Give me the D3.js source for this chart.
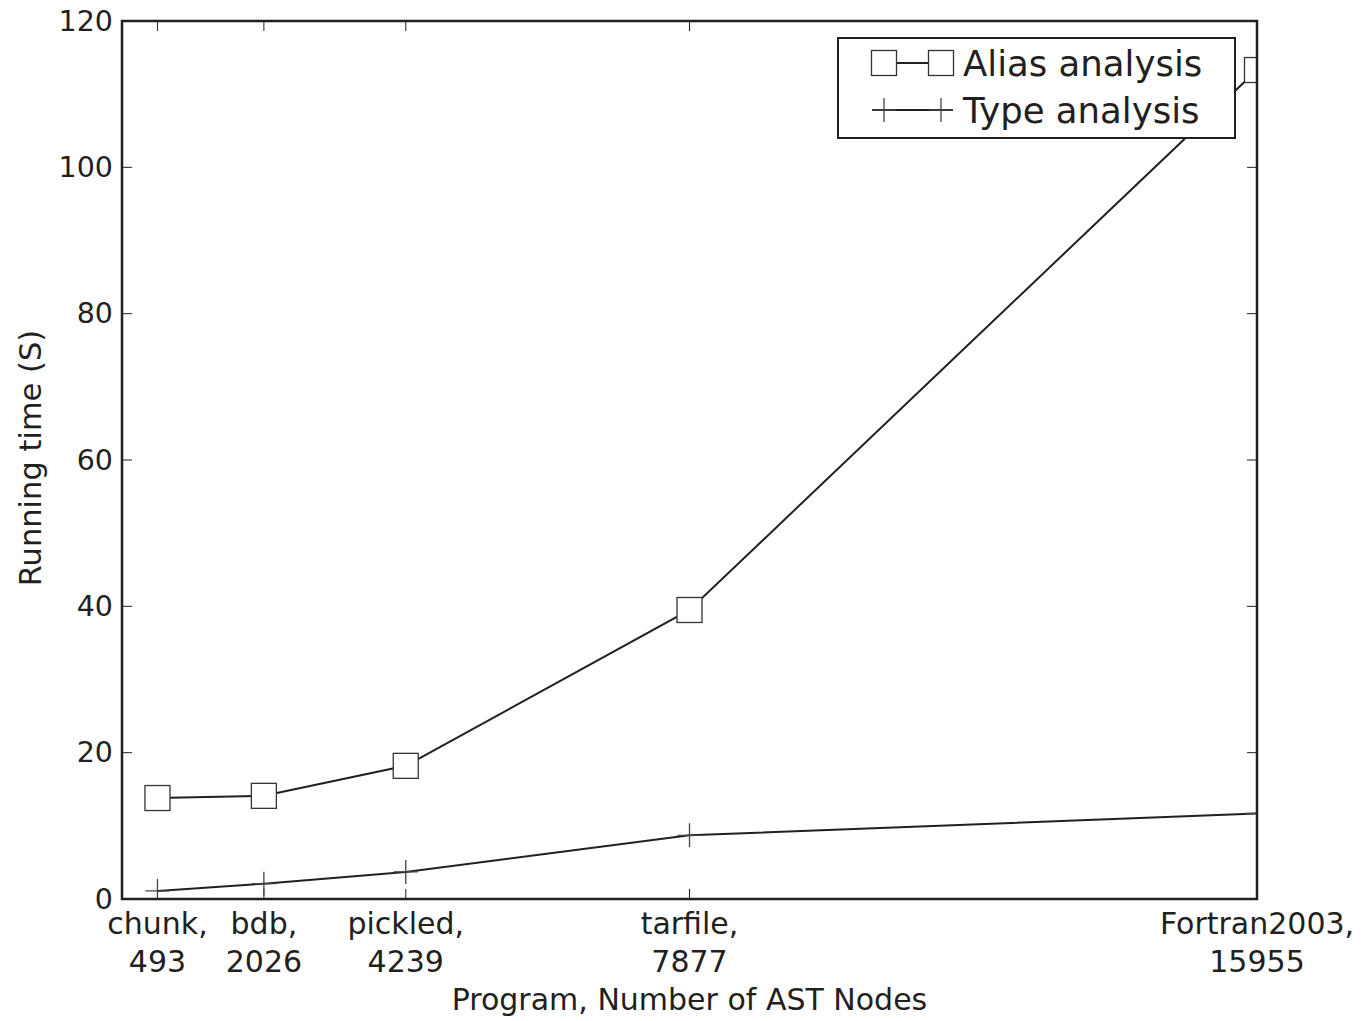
<!DOCTYPE html>
<html>
<head>
<meta charset="utf-8">
<script src="https://cdn.jsdelivr.net/npm/d3@7"></script>
<style>
  body { margin: 0; background: #fff; }
  text { font-family: "DejaVu Sans", sans-serif; fill: #231f20; }
</style>
</head>
<body>
<script>
const width = 1365,
      height = 1021;

// programs, placed by node count in thousands (rounded)
const programs = ["chunk,", "bdb,", "pickled,", "tarfile,", "Fortran2003,"];
const nodeLabels = ["493", "2026", "4239", "7877", "15955"];
const nodePos = [0.5, 2, 4, 8, 16];

const aliasTimes = [13.8, 14.1, 18.2, 39.5, 113.3];
const typeTimes = [1.1, 2.1, 3.7, 8.7, 11.7];

const yTicks = [0, 20, 40, 60, 80, 100, 120];

const margin = { top: 21, right: 108, bottom: 122, left: 122 };
const iw = width - margin.left - margin.right,
      ih = height - margin.top - margin.bottom;

const x = d3.scaleLinear().domain([0, 16]).range([0, iw]);
const y = d3.scaleLinear().domain([0, 120]).range([ih, 0]);

const ink = "#231f20";

const svg = d3.select("body")
  .append("svg")
  .attr("width", width)
  .attr("height", height);

const g = svg.append("g")
  .attr("transform", "translate(" + margin.left + "," + margin.top + ")");

svg.append("defs").append("clipPath")
  .attr("id", "plot-clip")
  .append("rect")
  .attr("width", iw)
  .attr("height", ih);

// ticks on all four sides, pointing inward
const tickLen = 10;
const ticks = g.append("g").attr("class", "ticks")
  .attr("stroke", ink).attr("stroke-width", 1);

yTicks.forEach((t) => {
  ticks.append("line").attr("x1", 0).attr("x2", tickLen).attr("y1", y(t)).attr("y2", y(t));
  ticks.append("line").attr("x1", iw).attr("x2", iw - tickLen).attr("y1", y(t)).attr("y2", y(t));
});
nodePos.forEach((p) => {
  ticks.append("line").attr("x1", x(p)).attr("x2", x(p)).attr("y1", ih).attr("y2", ih - tickLen);
  ticks.append("line").attr("x1", x(p)).attr("x2", x(p)).attr("y1", 0).attr("y2", tickLen);
});

// y tick labels
g.append("g").selectAll("text")
  .data(yTicks)
  .join("text")
  .attr("x", -9)
  .attr("y", (d) => y(d))
  .attr("dy", "0.34em")
  .attr("text-anchor", "end")
  .style("font-size", "28.5px")
  .text((d) => d);

// x tick labels, two lines each
const xl = g.append("g").selectAll("text")
  .data(programs)
  .join("text")
  .attr("text-anchor", "middle")
  .style("font-size", "30px")
  .attr("transform", (d, i) => "translate(" + x(nodePos[i]) + "," + (ih + 35) + ")");
xl.append("tspan").attr("x", 0).attr("y", 0).text((d) => d);
xl.append("tspan").attr("x", 0).attr("y", 38).text((d, i) => nodeLabels[i]);

// axis titles
g.append("text")
  .attr("x", iw / 2)
  .attr("y", ih + 111)
  .attr("text-anchor", "middle")
  .style("font-size", "30px")
  .text("Program, Number of AST Nodes");

g.append("text")
  .attr("transform", "translate(" + (-92) + "," + (ih / 2 - 2) + ") rotate(-90)")
  .attr("text-anchor", "middle")
  .attr("dy", "0.35em")
  .style("font-size", "30.5px")
  .text("Running time (S)");

// data
const plot = g.append("g").attr("clip-path", "url(#plot-clip)");

const line = d3.line()
  .x((d, i) => x(nodePos[i]))
  .y((d) => y(d));

plot.append("path")
  .datum(typeTimes)
  .attr("fill", "none")
  .attr("stroke", ink)
  .attr("stroke-width", 2)
  .attr("d", line);

const plusSize = 12;
plot.append("g").selectAll("path")
  .data(typeTimes)
  .join("path")
  .attr("fill", "none")
  .attr("stroke", "#444")
  .attr("stroke-width", 1.3)
  .attr("d", (d, i) => {
    const cx = x(nodePos[i]), cy = y(d);
    return "M" + (cx - plusSize) + "," + cy + "H" + (cx + plusSize) +
           "M" + cx + "," + (cy - plusSize) + "V" + (cy + plusSize);
  });

plot.append("path")
  .datum(aliasTimes)
  .attr("fill", "none")
  .attr("stroke", ink)
  .attr("stroke-width", 2)
  .attr("d", line);

const sq = 25;
plot.append("g").selectAll("rect")
  .data(aliasTimes)
  .join("rect")
  .attr("x", (d, i) => x(nodePos[i]) - sq / 2)
  .attr("y", (d) => y(d) - sq / 2)
  .attr("width", sq)
  .attr("height", sq)
  .attr("fill", "#fff")
  .attr("stroke", "#333")
  .attr("stroke-width", 1.3);

// frame
g.append("rect")
  .attr("width", iw)
  .attr("height", ih)
  .attr("fill", "none")
  .attr("stroke", ink)
  .attr("stroke-width", 2.5);

// legend
const legend = g.append("g")
  .attr("transform", "translate(" + (838 - margin.left) + "," + (38 - margin.top) + ")");

legend.append("rect")
  .attr("width", 397)
  .attr("height", 100)
  .attr("fill", "#fff")
  .attr("stroke", ink)
  .attr("stroke-width", 2);

const l1 = 25, l2 = 72;
legend.append("line")
  .attr("x1", 46).attr("x2", 103).attr("y1", l1).attr("y2", l1)
  .attr("stroke", ink).attr("stroke-width", 2);
[46, 103].forEach((cx) => {
  legend.append("rect")
    .attr("x", cx - sq / 2).attr("y", l1 - sq / 2)
    .attr("width", sq).attr("height", sq)
    .attr("fill", "#fff").attr("stroke", "#333").attr("stroke-width", 1.3);
});
legend.append("line")
  .attr("x1", 34).attr("x2", 115).attr("y1", l2).attr("y2", l2)
  .attr("stroke", ink).attr("stroke-width", 2);
[46, 103].forEach((cx) => {
  legend.append("path")
    .attr("d", "M" + (cx - plusSize) + "," + l2 + "H" + (cx + plusSize) +
               "M" + cx + "," + (l2 - plusSize) + "V" + (l2 + plusSize))
    .attr("stroke", "#444").attr("stroke-width", 1.3).attr("fill", "none");
});

legend.selectAll("text.lab")
  .data(["Alias analysis", "Type analysis"])
  .join("text")
  .attr("class", "lab")
  .attr("x", 125)
  .attr("y", (d, i) => (i === 0 ? l1 : l2))
  .attr("dy", "0.36em")
  .style("font-size", "35.5px")
  .text((d) => d);
</script>
</body>
</html>
